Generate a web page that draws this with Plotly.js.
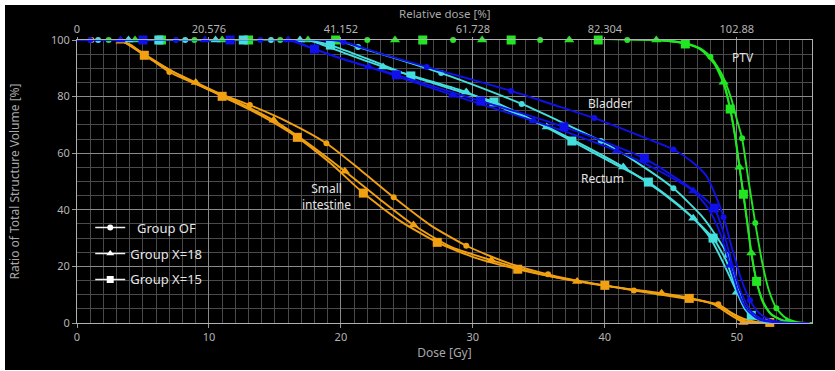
<!DOCTYPE html>
<html>
<head>
<meta charset="utf-8">
<script src="https://cdn.plot.ly/plotly-3.0.1.min.js"></script>
<style>
html,body{margin:0;padding:0;background:#ffffff;}
#chart{position:absolute;left:5px;top:5px;width:830px;height:365px;}
</style>
</head>
<body>
<div id="chart"></div>
<script>
// ---------- axis ticks ----------
const doseTicks = [0, 10, 20, 30, 40, 50];
const relDoseLabels = ['0', '20.576', '41.152', '61.728', '82.304', '102.88'];

// ---------- PTV ----------
const ptvOF_x = [0, 44, 46.1, 47.3, 48.0, 48.8, 49.6, 50.0, 50.4, 50.9, 51.4, 51.9, 52.4, 53.0, 53.7, 54.6, 55.7];
const ptvOF_y = [100, 100, 98.8, 96.8, 94.1, 88.5, 79, 72, 65.3, 50, 35.3, 22, 12, 5.2, 1.8, 0.3, 0];
const ptvOF_mx = [2.4, 8.9, 15.4, 22.0, 28.5, 35.1, 41.7, 48.0, 50.4, 51.4, 53.0];
const ptvOF_my = [100, 100, 100, 100, 100, 100, 100, 94.1, 65.3, 35.3, 5.2];
const ptvX18_x = [0, 44, 46.1, 47.3, 48.3, 49.0, 49.5, 49.9, 50.2, 50.5, 50.8, 51.1, 51.5, 52.0, 52.6, 53.5, 54.5, 55.7];
const ptvX18_y = [100, 100, 98.8, 96.8, 92, 85.1, 75.6, 65, 55, 45.5, 35, 24.7, 14.7, 7, 3, 0.8, 0.1, 0];
const ptvX18_mx = [4.4, 11.0, 17.5, 24.1, 30.7, 37.3, 43.9, 49.0, 50.2, 51.1, 53.8];
const ptvX18_my = [100, 100, 100, 100, 100, 100, 100, 85.1, 55, 24.7, 0.5];
const ptvX15_x = [0, 44, 46.1, 47.3, 48.3, 49.0, 49.5, 49.9, 50.2, 50.5, 50.8, 51.1, 51.5, 52.0, 52.6, 53.5, 54.5, 55.7];
const ptvX15_y = [100, 100, 98.7, 96.5, 91.5, 84.5, 75.6, 65.5, 55.5, 45.5, 35.5, 25, 14.7, 7.5, 3.2, 0.9, 0.1, 0];
const ptvX15_mx = [6.4, 13.0, 19.6, 26.2, 32.9, 39.5, 46.1, 49.5, 50.5, 51.5];
const ptvX15_my = [100, 100, 100, 100, 100, 100, 98.6, 75.6, 45.5, 14.7];

// ---------- Bladder ----------
const bladOF_x = [0, 19.3, 20.3, 23, 26.5, 29.7, 32.9, 36, 39.2, 42.2, 45.2, 46.6, 47.7, 48.4, 49.0, 49.6, 50.3, 51.0, 51.7, 52.5, 53.5, 55.5];
const bladOF_y = [100, 100, 99.2, 95.2, 90.5, 86.3, 82, 77.3, 72.4, 67, 61.3, 57, 52, 45, 37.4, 27, 16, 8, 3.5, 1.2, 0.2, 0];
const bladOF_mx = [1.0, 7.5, 13.9, 20.2, 26.5, 32.9, 39.2, 45.2, 49.0, 51.0];
const bladOF_my = [100, 100, 100, 99.3, 90.5, 82, 72.4, 61.3, 37.4, 8];
const bladX18_x = [0, 16.2, 17.2, 19, 22.1, 25.3, 28.5, 31.5, 34.6, 37.8, 40.9, 43.8, 46.7, 47.9, 48.8, 49.5, 50.1, 50.8, 51.7, 53, 55.5];
const bladX18_y = [100, 100, 98.3, 95, 90.5, 85.5, 80.5, 76, 71.4, 66.3, 60.8, 54.5, 46.6, 40, 31, 20.4, 11, 4.5, 1.2, 0.2, 0];
const bladX18_mx = [3.3, 9.7, 16.0, 22.1, 28.5, 34.6, 40.9, 46.7, 49.5];
const bladX18_my = [100, 100, 100, 90.5, 80.5, 71.4, 60.8, 46.6, 20.4];
const bladX15_x = [0, 16, 17, 18.0, 21, 24.2, 27.4, 30.6, 33.8, 36.9, 40, 43.0, 45.8, 47.3, 48.3, 49.0, 49.7, 50.4, 51.1, 52, 53.2, 55.5];
const bladX15_y = [100, 100, 98.5, 96.8, 92, 87.7, 83, 78.4, 74, 69.3, 64, 58.2, 50, 45, 40.6, 32, 20, 10, 4, 1.2, 0.2, 0];
const bladX15_mx = [5.0, 11.6, 18.0, 24.2, 30.6, 36.9, 43.0, 48.3];
const bladX15_my = [100, 100, 96.8, 87.7, 78.4, 69.3, 58.2, 40.6];

// ---------- Rectum ----------
const rectOF_x = [0, 19.5, 20.5, 21.3, 24.5, 27.6, 30.7, 33.7, 36.7, 39.7, 42.5, 45.2, 47.3, 48.4, 49.3, 50.0, 50.7, 51.5, 52.5, 54];
const rectOF_y = [100, 100, 98.8, 97.5, 93, 88.3, 83, 77.4, 71, 64.3, 56.5, 47.6, 38, 31, 24, 13, 5, 1.5, 0.3, 0];
const rectOF_mx = [1.6, 8.2, 14.7, 21.3, 27.6, 33.7, 39.7, 45.2, 49.3];
const rectOF_my = [100, 100, 100, 97.5, 88.3, 77.4, 64.3, 47.6, 24];
const rectX18_x = [0, 17.5, 18.5, 20.5, 23.2, 26.4, 29.5, 32.5, 35.6, 38.5, 41.4, 44.2, 46.7, 48.0, 49.0, 49.6, 50.0, 50.6, 51.3, 52.3, 54];
const rectX18_y = [100, 100, 98.5, 95, 90.5, 86, 81.6, 75.5, 69.3, 62.5, 55.1, 46.5, 37, 30, 21, 15, 10.9, 5, 1.8, 0.4, 0];
const rectX18_mx = [3.9, 10.5, 16.9, 23.2, 29.5, 35.6, 41.4, 46.7, 50.0];
const rectX18_my = [100, 100, 100, 90.5, 81.6, 69.3, 55.1, 37, 10.9];
const rectX15_x = [0, 17.3, 18.3, 19.2, 22.2, 25.3, 28.5, 31.6, 34.6, 37.5, 40.4, 43.3, 45.9, 48.2, 49.2, 49.8, 50.4, 51.1, 52, 53.5];
const rectX15_y = [100, 100, 99.2, 98.2, 93, 87.3, 82.5, 78.1, 71.5, 64.3, 57, 49.8, 40.5, 30, 22, 14, 7, 2.7, 0.6, 0];
const rectX15_mx = [6.2, 12.6, 19.2, 25.3, 31.6, 37.5, 43.3, 48.2, 51.1];
const rectX15_my = [100, 100, 98.2, 87.3, 78.1, 64.3, 49.8, 30, 2.7];

// ---------- Small intestine ----------
const siOF_x = [0, 3, 4, 5.5, 7.0, 10, 13.1, 16, 18.9, 21.5, 24.0, 26.8, 29.5, 32.5, 35.7, 39, 42.2, 45.5, 48.6, 49.6, 50.5, 51.5, 53.5];
const siOF_y = [100, 100, 98.5, 93.5, 88.7, 82.5, 77, 71, 63.5, 54, 44.4, 34.5, 27.3, 21.5, 17.2, 14, 11.5, 9.1, 6.6, 3.5, 0.8, 0, 0];
const siOF_mx = [1.1, 7.0, 13.1, 18.9, 24.0, 29.5, 35.7, 42.2, 48.6];
const siOF_my = [100, 88.7, 77, 63.5, 44.4, 27.3, 17.2, 11.5, 6.6];
const siX18_x = [0, 3.3, 5, 7, 9.0, 11, 13, 14.9, 17.5, 20.3, 23, 25.5, 28.3, 31.4, 34.5, 37.9, 41, 44.3, 46.5, 48.2, 49.3, 50.5, 52, 53.5];
const siX18_y = [100, 99.8, 95.3, 89.5, 85, 80.6, 76.2, 71.6, 63.5, 53.6, 43.5, 34.6, 27, 22.2, 18, 14.7, 12.5, 10.5, 8.8, 6.8, 3.5, 0.3, 0, 0];
const siX18_mx = [3.3, 9.0, 14.9, 20.3, 25.5, 31.4, 37.9, 44.3, 50.5];
const siX18_my = [99.6, 85, 71.6, 53.6, 34.6, 22.2, 14.7, 10.5, 0.2];
const siX15_x = [0, 3.3, 5.1, 8, 11.0, 14, 16.7, 19.2, 21.7, 24.5, 27.3, 30.2, 33.4, 36.7, 40, 43.2, 46.4, 48.4, 49.4, 50.5, 51.5, 52.5, 53.5];
const siX15_y = [100, 99.8, 94.6, 87, 80.1, 73.2, 65.6, 56.5, 45.9, 36, 28.5, 23, 19, 15.8, 13.3, 11, 8.7, 6.4, 4, 1.5, 0.4, 0.1, 0];
const siX15_mx = [5.1, 11.0, 16.7, 21.7, 27.3, 33.4, 40, 46.4, 52.5];
const siX15_my = [94.6, 80.1, 65.6, 45.9, 28.5, 19, 13.3, 8.7, 0.2];

// ---------- labels ----------
const structNames = ['PTV', 'Bladder', 'Rectum', 'Small<br>intestine'];
const structLabelX = [50.45, 40.4, 39.8, 18.9];
const structLabelY = [93.9, 77.6, 51.1, 44.7];
const groupNames = ['\u00a0\u00a0Group OF', 'Group X=18', 'Group X=15'];
const topAxisTitle = 'Relative dose [%]';

// ---------- styling ----------
const COL = {ptv: '#22e622', blad: '#1010ea', rect: '#45dede', si: '#f0a010'};
const SYM = ['circle', 'triangle-up', 'square'];
const MSIZE = [6, 9, 9];

const traces = [];
function addCurve(lx, ly, mx, my, color, g) {
  traces.push({x: lx, y: ly, type: 'scatter', mode: 'lines', showlegend: false, hoverinfo: 'skip',
    line: {color: color, width: 1.9, shape: 'spline', smoothing: 0.6}, cliponaxis: true});
  traces.push({x: mx, y: my, type: 'scatter', mode: 'markers', showlegend: false, hoverinfo: 'skip',
    marker: {color: color, symbol: SYM[g], size: MSIZE[g], line: {width: 0}}, cliponaxis: false});
}
addCurve(siOF_x, siOF_y, siOF_mx, siOF_my, COL.si, 0);
addCurve(siX18_x, siX18_y, siX18_mx, siX18_my, COL.si, 1);
addCurve(siX15_x, siX15_y, siX15_mx, siX15_my, COL.si, 2);
addCurve(ptvOF_x, ptvOF_y, ptvOF_mx, ptvOF_my, COL.ptv, 0);
addCurve(ptvX18_x, ptvX18_y, ptvX18_mx, ptvX18_my, COL.ptv, 1);
addCurve(ptvX15_x, ptvX15_y, ptvX15_mx, ptvX15_my, COL.ptv, 2);
addCurve(rectOF_x, rectOF_y, rectOF_mx, rectOF_my, COL.rect, 0);
addCurve(rectX18_x, rectX18_y, rectX18_mx, rectX18_my, COL.rect, 1);
addCurve(rectX15_x, rectX15_y, rectX15_mx, rectX15_my, COL.rect, 2);
addCurve(bladOF_x, bladOF_y, bladOF_mx, bladOF_my, COL.blad, 0);
addCurve(bladX18_x, bladX18_y, bladX18_mx, bladX18_my, COL.blad, 1);
addCurve(bladX15_x, bladX15_y, bladX15_mx, bladX15_my, COL.blad, 2);

// legend entries
groupNames.forEach(function (nm, g) {
  traces.push({x: [null], y: [null], type: 'scatter', mode: 'lines+markers', name: nm,
    legendgroup: 'g' + g, showlegend: true,
    line: {color: '#f0f0f0', width: 1.5},
    marker: {color: '#ffffff', symbol: SYM[g], size: [6, 7, 7][g]}});
});
// invisible trace to activate top axis
traces.push({x: [0, 55.7], y: [null, null], xaxis: 'x2', yaxis: 'y', type: 'scatter', mode: 'markers',
  showlegend: false, hoverinfo: 'skip'});

const titleFont = {family: 'Noto Sans, sans-serif', size: 12, color: '#a8a8a8'};
const tickFont = {family: 'Noto Sans, sans-serif', size: 11, color: '#b4b4b4'};

const annotations = structNames.map(function (t, i) {
  return {x: structLabelX[i], y: structLabelY[i], xref: 'x', yref: 'y', text: t, showarrow: false,
    font: {family: 'Noto Sans, sans-serif', size: 12, color: '#e2e2e2'}, align: 'center'};
});
// top axis title (placed above the top tick labels)
annotations.push({x: 0.5, y: 1, xref: 'paper', yref: 'paper', xanchor: 'center', yanchor: 'bottom',
  yshift: 18, borderpad: 0, text: topAxisTitle, showarrow: false,
  font: {family: 'Noto Sans, sans-serif', size: 11.5, color: '#a8a8a8'}});

const layout = {
  width: 830, height: 365,
  margin: {l: 72, r: 23, t: 35, b: 47},
  paper_bgcolor: '#000000', plot_bgcolor: '#000000',
  showlegend: true,
  legend: {x: 0.018, xanchor: 'left', y: 0.39, yanchor: 'top', bgcolor: 'rgba(0,0,0,0)',
    font: {family: 'Noto Sans, sans-serif', size: 13, color: '#e6e6e6'},
    traceorder: 'grouped', tracegroupgap: 6, itemwidth: 30},
  xaxis: {range: [0, 55.7], tickvals: doseTicks, ticktext: doseTicks.map(String),
    tickfont: tickFont, ticks: 'outside', ticklen: 4, tickcolor: '#9a9a9a',
    showgrid: true, gridcolor: '#8a8a8a', gridwidth: 1,
    minor: {dtick: 1, showgrid: true, gridcolor: '#4a4a4a', gridwidth: 1},
    showline: true, linecolor: '#b0b0b0', linewidth: 1, mirror: true, zeroline: false,
    title: {text: 'Dose [Gy]', font: titleFont, standoff: 0}, automargin: false},
  xaxis2: {overlaying: 'x', side: 'top', range: [0, 55.7], tickvals: doseTicks, ticktext: relDoseLabels,
    tickfont: tickFont, ticks: 'outside', ticklen: 2, tickcolor: '#9a9a9a', showgrid: false, zeroline: false,
    automargin: false},
  yaxis: {range: [0, 100], tickvals: [0, 20, 40, 60, 80, 100], tickfont: tickFont,
    ticks: 'outside', ticklen: 4, tickcolor: '#9a9a9a',
    showgrid: true, gridcolor: '#8a8a8a', gridwidth: 1,
    minor: {dtick: 5, showgrid: true, gridcolor: '#4a4a4a', gridwidth: 1},
    showline: true, linecolor: '#b0b0b0', linewidth: 1, mirror: true, zeroline: false,
    title: {text: 'Ratio of Total Structure Volume [%]', font: titleFont, standoff: 28}, automargin: false},
  annotations: annotations
};

Plotly.newPlot('chart', traces, layout, {displayModeBar: false, staticPlot: true});
</script>
</body>
</html>
